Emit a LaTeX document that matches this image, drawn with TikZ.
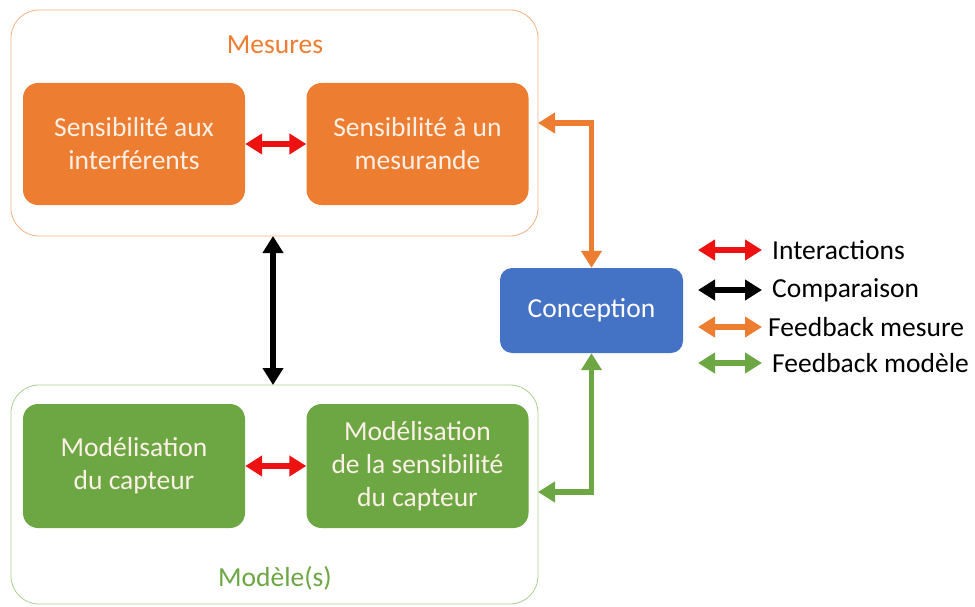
\documentclass[tikz,border=0pt]{standalone}
\usepackage{fontspec}
\setmainfont{Carlito}
\usetikzlibrary{arrows.meta}
\definecolor{orng}{HTML}{ED7D31}
\definecolor{orngl}{HTML}{F4B183}
\definecolor{grn}{HTML}{6CA743}
\definecolor{grnl}{HTML}{A9D18E}
\definecolor{blu}{HTML}{4472C4}
\definecolor{txtl}{HTML}{FDF0E6}
\definecolor{rd}{HTML}{EE1111}
\tikzset{
  outer/.style={draw, line width=0.8pt, rounded corners=28pt, minimum width=#1, inner sep=0pt},
  inbox/.style={fill=#1, draw=none, rounded corners=15pt, minimum width=222pt, minimum height=122pt, text=txtl, align=center, font=\fontsize{27.5}{33}\selectfont, inner sep=0pt},
  dbl/.style={line width=5.5pt, {Triangle[length=17pt,width=20pt]}-{Triangle[length=17pt,width=20pt]}, draw=#1},
  lab/.style={font=\fontsize{27.5}{33}\selectfont, anchor=west, inner sep=0pt},
}
\begin{document}
\begin{tikzpicture}[x=1pt,y=-1pt]
\useasboundingbox (0,0) rectangle (975,607);
% outer boxes
\node[outer=527pt, draw=orngl, minimum height=226pt] (mes) at (274.5,123) {};
\node[outer=527pt, draw=grnl, minimum height=219pt] (mod) at (274.5,494.5) {};
\node[font=\fontsize{27.5}{33}\selectfont, text=orng] (mesl) at (275,45) {Mesures};
\node[font=\fontsize{27.5}{33}\selectfont, text=grn] (modl) at (275,578) {Modèle(s)};
% inner boxes
\node[inbox=orng] (m1) at (134,144) {Sensibilité aux\\interférents};
\node[inbox=orng] (m2) at (417.5,144) {Sensibilité à un\\mesurande};
\node[inbox=grn, minimum height=124pt] (g1) at (134,466) {Modélisation\\du capteur};
\node[inbox=grn, minimum height=124pt] (g2) at (417.5,466) {Modélisation\\de la sensibilité\\du capteur};
\node[fill=blu, rounded corners=12pt, minimum width=183pt, minimum height=85pt, text=white, font=\fontsize{27.5}{33}\selectfont, inner sep=0pt] (con) at (591.5,310.5) {Conception};
% arrows
\draw[dbl=rd] (m1.east) -- (m2.west);
\draw[dbl=rd] (g1.east) -- (g2.west);
\coordinate (bt) at (273,236);
\coordinate (bb) at (273,385);
\draw[dbl=black] (bt) -- (bb);
\coordinate (fo) at (538,123);
\coordinate (fg) at (538,492);
\draw[dbl=orng] (fo) -| (con.north);
\draw[dbl=grn] (fg) -| (con.south);
% legend
\coordinate (l1a) at (698,250); \coordinate (l1b) at (762,250);
\coordinate (l2a) at (698,290); \coordinate (l2b) at (762,290);
\coordinate (l3a) at (698,327); \coordinate (l3b) at (762,327);
\coordinate (l4a) at (698,363); \coordinate (l4b) at (762,363);
\draw[dbl=rd] (l1a) -- (l1b);
\draw[dbl=black] (l2a) -- (l2b);
\draw[dbl=orng] (l3a) -- (l3b);
\draw[dbl=grn] (l4a) -- (l4b);
\node[lab] (t1) at (772,250) {Interactions};
\node[lab] (t2) at (772,290) {Comparaison};
\node[lab] (t3) at (768,327) {Feedback mesure};
\node[lab] (t4) at (772,363) {Feedback modèle};
\end{tikzpicture}
\end{document}
